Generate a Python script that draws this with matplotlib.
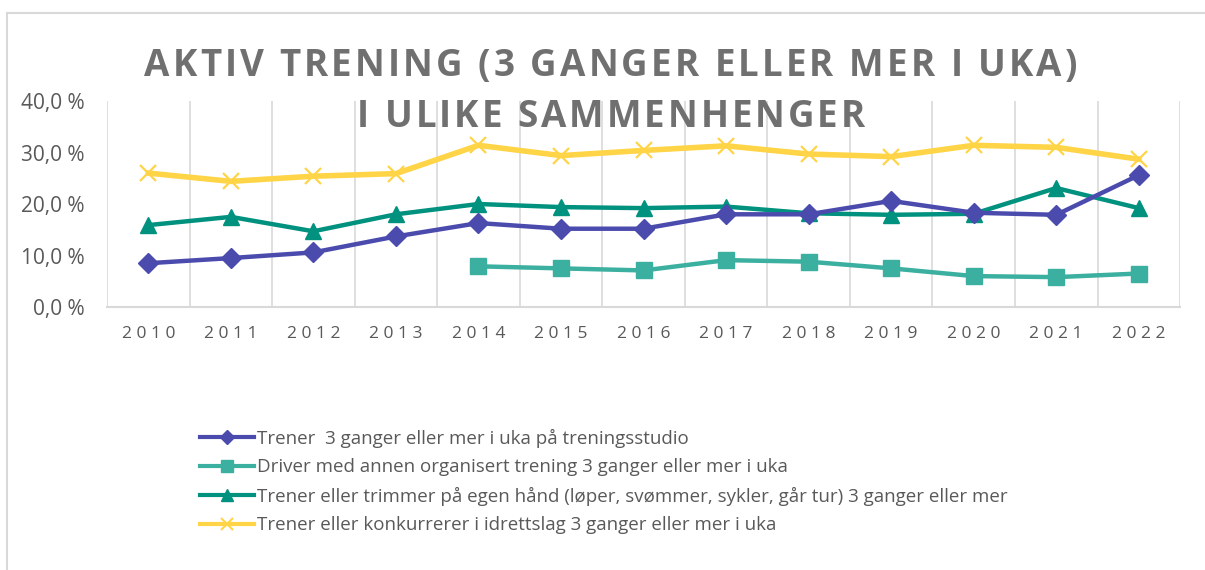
import matplotlib.pyplot as plt
from matplotlib.lines import Line2D
from matplotlib.font_manager import FontProperties

years = ['2010', '2011', '2012', '2013', '2014', '2015', '2016',
         '2017', '2018', '2019', '2020', '2021', '2022']

studio = [8.5, 9.5, 10.6, 13.7, 16.3, 15.2, 15.2, 18.0, 18.0, 20.6, 18.3, 17.9, 25.6]
organisert_years = ['2014', '2015', '2016', '2017', '2018', '2019', '2020', '2021', '2022']
organisert = [7.9, 7.5, 7.1, 9.1, 8.8, 7.5, 6.0, 5.8, 6.5]
egen_hand = [15.9, 17.5, 14.7, 18.0, 20.0, 19.4, 19.2, 19.5, 18.2, 17.9, 18.1, 23.1, 19.2]
idrettslag = [26.0, 24.4, 25.4, 25.9, 31.4, 29.4, 30.4, 31.3, 29.7, 29.2, 31.4, 31.0, 28.7]

labels = ['Trener  3 ganger eller mer i uka på treningsstudio',
          'Driver med annen organisert trening 3 ganger eller mer i uka',
          'Trener eller trimmer på egen hånd (løper, svømmer, sykler, går tur) 3 ganger eller mer',
          'Trener eller konkurrerer i idrettslag 3 ganger eller mer i uka']

title_lines = ['AKTIV TRENING (3 GANGER ELLER MER I UKA)', 'I ULIKE SAMMENHENGER']

colours = ['#4B4BAE', '#3BAFA0', '#00917F', '#FFD447']
text_grey = '#595959'
title_grey = '#707070'
grid_grey = '#D9D9D9'

plt.rcParams['font.family'] = ['Open Sans', 'DejaVu Sans']


def spaced_text(fig, s, xc, yc, width_px, size):
    '''Draw text with letter spacing so it spans width_px, centred at xc.'''
    renderer = fig.canvas.get_renderer()
    prop = FontProperties(family='Open Sans', weight='bold', size=size)

    def w(t):
        return renderer.get_text_width_height_descent(t, prop, ismath=False)[0]

    spacing = (width_px - w(s)) / (len(s) - 1)
    figw = fig.get_figwidth() * fig.dpi
    x0 = xc * figw - width_px / 2
    for i, ch in enumerate(s):
        if ch == ' ':
            continue
        xr = x0 + w(s[:i + 1]) + i * spacing
        fig.text(xr / figw, yc, ch, ha='right', va='center',
                 fontproperties=prop, color=title_grey, zorder=10)


fig = plt.figure(figsize=(12.05, 5.70), dpi=100)
ax = fig.add_axes([0.0888, 0.4614, 0.8905, 0.3614])

x = list(range(len(years)))
x_org = [years.index(y) for y in organisert_years]

ax.plot(x, idrettslag, color=colours[3], lw=4, marker='x', ms=12, mew=1.6,
        zorder=3)
ax.plot(x, egen_hand, color=colours[2], lw=3.2, marker='^', ms=12, zorder=4)
ax.plot(x, studio, color=colours[0], lw=3.2, marker='D', ms=10, zorder=5)
ax.plot(x_org, organisert, color=colours[1], lw=3.2, marker='s', ms=12,
        zorder=4)

ax.set_xlim(-0.5, len(years) - 0.5)
ax.set_ylim(0, 40)
ax.set_yticks([0, 10, 20, 30, 40])
ax.set_yticklabels(['0,0 %', '10,0 %', '20,0 %', '30,0 %', '40,0 %'])
ax.set_xticks(x)
ax.set_xticklabels([' '.join(y) for y in years])

# vertical grid between categories
for b in range(len(years) + 1):
    ax.axvline(b - 0.5, color=grid_grey, lw=1.2, zorder=1)

for s in ['top', 'right', 'left']:
    ax.spines[s].set_visible(False)
ax.spines['bottom'].set_color(grid_grey)
ax.spines['bottom'].set_linewidth(1.5)
ax.tick_params(axis='both', length=0, colors=text_grey)
ax.tick_params(axis='y', labelsize=15, pad=16)
ax.tick_params(axis='x', labelsize=12.5, pad=14)

spaced_text(fig, title_lines[0], 0.507, 0.885, 933, 26.5)
spaced_text(fig, title_lines[1], 0.507, 0.795, 508, 26.5)

handles = [
    Line2D([], [], color=colours[0], lw=3, marker='D', ms=7),
    Line2D([], [], color=colours[1], lw=3, marker='s', ms=8),
    Line2D([], [], color=colours[2], lw=3, marker='^', ms=8),
    Line2D([], [], color=colours[3], lw=3, marker='x', ms=8, mew=1.5),
]
fig.legend(handles, labels, loc='upper left', bbox_to_anchor=(0.166, 0.248),
           frameon=False, fontsize=13.5, labelcolor=text_grey,
           handlelength=2.9, handletextpad=0.16, labelspacing=0.56,
           borderpad=0, borderaxespad=0)

# chart frame (left and top edges visible)
fig.add_artist(Line2D([0.006, 0.006], [0.0, 0.977], color=grid_grey, lw=1.5))
fig.add_artist(Line2D([0.006, 1.0], [0.977, 0.977], color=grid_grey, lw=1.5))

fig.savefig('out.png', dpi=100)
